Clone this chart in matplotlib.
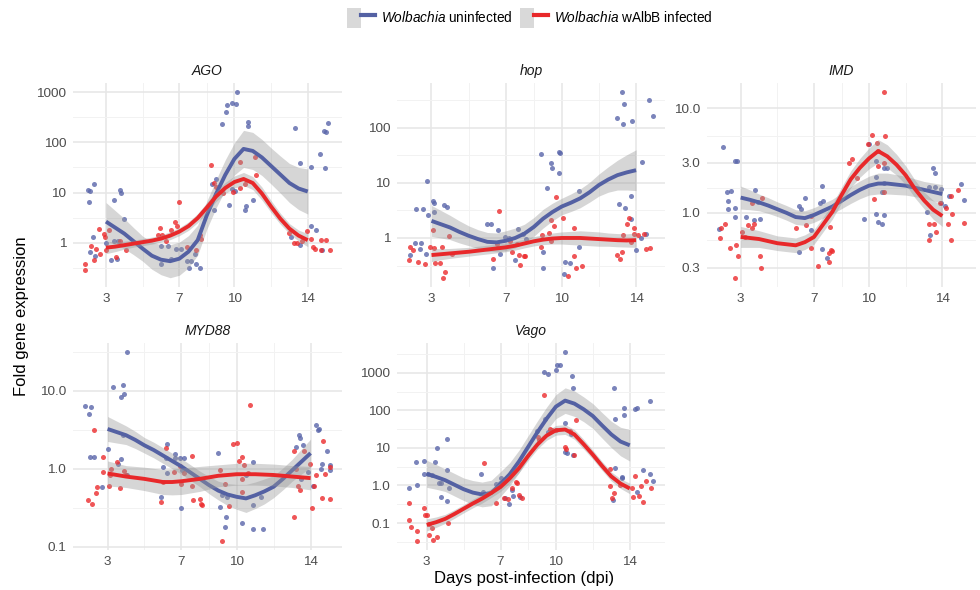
import numpy as np
import matplotlib
matplotlib.use("Agg")
import matplotlib.pyplot as plt
from matplotlib.ticker import FixedLocator, FixedFormatter, NullFormatter
from matplotlib.patches import Patch
from matplotlib.lines import Line2D
from matplotlib.legend_handler import HandlerTuple

plt.rcParams['font.family'] = ['Liberation Sans', 'DejaVu Sans']
plt.rcParams['mathtext.fontset'] = 'custom'
plt.rcParams['mathtext.it'] = 'Liberation Sans:italic'
plt.rcParams['mathtext.rm'] = 'Liberation Sans'

genes = ['AGO', 'hop', 'IMD', 'MYD88', 'Vago']
x_ticks = [3, 7, 10, 14]
x_minor = [1, 5, 8.5, 12, 16]

# days where the smooth curves were read (every half day, 3 to 14)
# fit = log10 fold expression of the curve, band = half width of the grey ribbon (log10)
fit_days = [3, 3.5, 4, 4.5, 5, 5.5, 6, 6.5, 7, 7.5, 8, 8.5, 9, 9.5, 10, 10.5, 11, 11.5, 12, 12.5, 13, 13.5, 14]

# ---------------- AGO
ago_uninf_x = [2.0, 2.15, 2.1, 2.35, 2.3, 2.15, 2.4, 3.0, 3.25, 3.45, 3.45, 3.65, 3.6, 3.8, 3.75, 4.0,
               6.0, 6.0, 6.4, 6.55, 6.8, 7.1, 7.4, 7.5, 7.65, 7.85, 7.9, 8.1,
               8.9, 8.8, 9.3, 9.55, 9.6, 9.85, 10.1, 10.15, 9.7, 9.85, 10.05, 10.6, 10.65, 10.75, 10.75, 11.0, 9.0,
               13.3, 13.1, 13.6, 13.55, 14.2, 14.2, 14.45, 14.65, 14.8, 14.9, 15.0, 15.1, 14.95]
ago_uninf_y = [11, 10.5, 6.5, 15, 1.3, 0.65, 0.55, 1.0, 0.45, 7.2, 1.1, 1.1, 0.47, 10, 11, 2.9,
               0.84, 0.37, 0.84, 0.47, 0.73, 0.73, 0.44, 0.31, 0.44, 0.58, 0.38, 0.31,
               4.4, 14.5, 228, 400, 570, 620, 580, 1000, 5.7, 11.5, 10.5, 4.4, 5.5, 210, 255, 7, 19,
               190, 1.3, 38, 0.88, 33, 2.1, 1.8, 58, 0.72, 172, 160, 245, 31]
ago_walbb_x = [1.87, 1.87, 2.18, 2.33, 2.45, 2.6, 2.67, 2.9, 2.93, 3.0, 3.18, 3.55, 3.77, 4.1,
               5.92, 5.83, 6.07, 6.3, 6.55, 6.75, 6.85, 7.0, 7.4, 7.9, 8.1, 8.2,
               8.7, 8.9, 9.0, 9.4, 9.9, 10.3, 10.3, 10.6, 11.1, 11.2,
               13.0, 13.25, 13.4, 13.7, 13.95, 14.2, 14.3, 14.4, 14.7, 14.7, 15.0, 15.2]
ago_walbb_y = [0.37, 0.28, 0.84, 0.46, 0.76, 1.83, 0.6, 1.5, 1.3, 0.72, 1.8, 0.51, 1.1, 0.7,
               2.0, 1.4, 1.4, 1.1, 1.8, 2.6, 2.1, 6.6, 0.82, 0.72, 1.4, 1.2,
               35, 15.6, 13, 9.8, 10.2, 40.8, 12.3, 15, 51, 22,
               1.57, 1.0, 1.0, 1.06, 1.7, 1.2, 0.82, 0.76, 1.15, 0.72, 1.15, 0.72]
ago_uninf_fit = [0.42, 0.30, 0.18, 0.03, -0.12, -0.26, -0.34, -0.37, -0.32, -0.18, 0.05, 0.55,
                 0.97, 1.35, 1.67, 1.87, 1.83, 1.70, 1.53, 1.36, 1.19, 1.08, 1.02]
ago_uninf_band = [0.38, 0.34, 0.30, 0.27, 0.25, 0.27, 0.30, 0.33, 0.33, 0.32, 0.30, 0.28,
                  0.28, 0.30, 0.32, 0.37, 0.37, 0.36, 0.36, 0.37, 0.39, 0.42, 0.45]
ago_walbb_fit = [-0.10, -0.08, -0.05, -0.02, 0.01, 0.04, 0.08, 0.14, 0.22, 0.33, 0.49, 0.70,
                 0.92, 1.09, 1.21, 1.27, 1.19, 0.98, 0.72, 0.48, 0.28, 0.14, 0.05]
ago_walbb_band = [0.12, 0.10, 0.08, 0.07, 0.07, 0.07, 0.07, 0.08, 0.08, 0.085, 0.09, 0.10,
                  0.10, 0.11, 0.12, 0.13, 0.13, 0.13, 0.12, 0.11, 0.10, 0.11, 0.13]
ago_yticks = [1, 10, 100, 1000]
ago_ylabels = ['1', '10', '100', '1000']

# ---------------- hop
hop_uninf_x = [1.87, 2.1, 2.46, 2.14, 2.4, 2.55, 2.77, 2.8, 2.73, 3.09, 3.13, 3.16, 3.66, 3.85,
               6.0, 6.2, 6.3, 6.6, 6.96, 7.15, 7.5, 7.65, 7.9, 8.07, 6.7,
               8.9, 9.2, 9.45, 9.47, 9.0, 9.0, 9.85, 9.9, 9.85, 10.1, 10.2, 10.45, 10.95, 10.95,
               13.25, 13.34, 12.95, 13.3, 13.8, 14.7, 14.9, 13.07, 13.38, 13.7, 13.7, 14.33, 14.0, 14.27, 14.56]
hop_uninf_y = [0.49, 0.81, 0.82, 3.4, 0.63, 3.3, 11, 2.66, 0.51, 4.6, 2.97, 4.4, 3.9, 3.6,
               1.76, 1.76, 0.28, 1.39, 1.04, 1.0, 0.40, 1.47, 1.16, 0.97, 0.52,
               33, 8, 23, 18.5, 0.55, 0.28, 36.5, 35, 15.3, 0.22, 0.37, 0.35, 7, 0.70,
               440, 272, 150, 116, 133, 325, 163, 4.2, 3.5, 5.7, 2.25, 24, 0.6, 1.0, 1.2]
hop_walbb_x = [1.8, 1.87, 2.0, 2.3, 2.67, 2.9, 3.09, 3.16, 3.2, 3.45, 3.57, 3.63, 3.72, 3.93, 4.1,
               6.63, 6.3, 6.5, 7.2, 7.35, 7.7, 7.75, 7.95, 8.05, 7.6,
               8.9, 8.93, 9.33, 9.42, 9.42, 9.6, 9.69, 10.08, 10.35, 10.68, 10.77, 11.07, 10.68,
               12.95, 13.16, 13.25, 13.3, 13.5, 13.6, 13.9, 13.9, 13.7, 14.1, 14.4, 14.56, 14.77]
hop_walbb_y = [0.40, 0.69, 0.60, 0.37, 0.34, 0.70, 1.41, 0.65, 0.35, 0.35, 0.69, 0.19, 0.24, 1.1, 0.51,
               3.06, 0.41, 0.77, 0.88, 0.55, 0.49, 0.33, 0.47, 0.47, 0.77,
               0.69, 1.12, 1.25, 2.1, 0.88, 1.64, 5.5, 2.3, 0.2, 0.48, 0.29, 0.31, 1.53,
               0.49, 0.41, 0.55, 1.15, 1.78, 2.35, 1.5, 1.2, 0.84, 1.15, 1.2, 0.62, 0.66]
hop_uninf_fit = [0.31, 0.25, 0.19, 0.11, 0.04, -0.02, -0.07, -0.08, -0.05, 0.0, 0.08, 0.20,
                 0.35, 0.47, 0.57, 0.64, 0.72, 0.83, 0.96, 1.06, 1.14, 1.19, 1.23]
hop_uninf_band = [0.28, 0.25, 0.22, 0.20, 0.18, 0.17, 0.17, 0.17, 0.18, 0.18, 0.17, 0.17,
                  0.17, 0.16, 0.15, 0.16, 0.17, 0.18, 0.20, 0.23, 0.27, 0.32, 0.37]
hop_walbb_fit = [-0.31, -0.295, -0.28, -0.265, -0.25, -0.23, -0.21, -0.19, -0.17, -0.14, -0.10, -0.06,
                 -0.03, -0.01, 0.0, 0.0, 0.0, -0.01, -0.02, -0.03, -0.04, -0.045, -0.04]
hop_walbb_band = [0.12, 0.10, 0.09, 0.085, 0.08, 0.08, 0.08, 0.08, 0.08, 0.08, 0.08, 0.085,
                  0.09, 0.10, 0.11, 0.12, 0.13, 0.13, 0.13, 0.12, 0.12, 0.12, 0.13]
hop_yticks = [1, 10, 100]
hop_ylabels = ['1', '10', '100']

# ---------------- IMD
imd_uninf_x = [1.83, 2.05, 2.23, 2.45, 2.32, 2.32, 2.69, 2.69, 2.69, 2.78, 3.29, 3.73, 3.79, 3.92, 4.03,
               6.17, 6.3, 6.5, 6.17, 6.86, 7.33, 7.42, 7.5, 7.46, 7.7,
               9.74, 10.0, 10.4, 10.4, 10.5, 10.7, 10.8, 10.8, 11.0, 10.7, 10.84, 10.4,
               13.49, 13.58, 13.3, 13.58, 13.95, 13.16, 13.35, 14.17, 14.35, 15.04, 15.17, 13.95]
imd_uninf_y = [0.70, 4.3, 1.58, 1.62, 1.29, 1.1, 1.12, 0.91, 3.1, 3.14, 0.91, 0.85, 1.66, 1.28, 0.88,
               1.17, 1.08, 1.4, 0.42, 0.68, 1.23, 1.8, 1.3, 0.45, 0.37,
               0.88, 4.6, 2.2, 0.98, 0.81, 0.78, 0.96, 2.7, 2.7, 1.6, 1.95, 3.1,
               2.7, 2.4, 1.76, 1.78, 1.69, 1.03, 0.62, 1.17, 1.46, 1.9, 1.33, 1.24]
imd_walbb_x = [1.86, 1.95, 2.13, 2.4, 2.68, 2.77, 2.86, 3.05, 3.24, 3.42, 3.6, 3.75, 4.06, 4.13, 4.15, 3.6,
               6.04, 6.59, 6.85, 6.86, 7.2, 7.8, 7.95, 8.0, 7.86, 7.82,
               8.9, 9.1, 9.36, 9.92, 10.14, 10.25, 10.44, 10.5, 10.5, 10.8, 10.83, 10.9, 10.8,
               13.3, 13.56, 13.3, 13.67, 13.9, 14.2, 14.3, 14.48, 14.53, 14.5, 14.86, 15.17]
imd_walbb_y = [0.58, 0.71, 0.78, 0.46, 0.24, 0.49, 0.39, 0.65, 0.59, 0.77, 0.72, 0.78, 0.39, 0.30, 1.38, 1.25,
               0.72, 0.77, 0.46, 0.94, 0.31, 0.41, 0.44, 0.43, 0.74, 0.34,
               3.0, 3.3, 2.15, 4.6, 5.6, 1.36, 4.7, 3.9, 2.8, 1.58, 14.2, 5.4, 3.0,
               0.78, 0.78, 0.55, 0.65, 1.24, 1.12, 0.78, 1.46, 0.97, 0.55, 1.66, 0.8]
imd_uninf_fit = [0.146, 0.125, 0.10, 0.07, 0.035, 0.0, -0.04, -0.05, -0.02, 0.02, 0.06, 0.115,
                 0.17, 0.22, 0.26, 0.28, 0.28, 0.27, 0.26, 0.24, 0.22, 0.20, 0.18]
imd_uninf_band = [0.11, 0.095, 0.08, 0.075, 0.07, 0.07, 0.07, 0.07, 0.07, 0.07, 0.07, 0.075,
                  0.08, 0.085, 0.09, 0.10, 0.10, 0.095, 0.09, 0.085, 0.08, 0.085, 0.09]
imd_walbb_fit = [-0.23, -0.24, -0.25, -0.27, -0.29, -0.30, -0.31, -0.28, -0.23, -0.11, 0.01, 0.17,
                 0.32, 0.43, 0.52, 0.59, 0.54, 0.46, 0.36, 0.23, 0.12, 0.03, -0.03]
imd_walbb_band = [0.10, 0.09, 0.08, 0.075, 0.07, 0.07, 0.07, 0.07, 0.07, 0.07, 0.07, 0.075,
                  0.08, 0.09, 0.10, 0.11, 0.11, 0.10, 0.09, 0.085, 0.08, 0.09, 0.10]
imd_yticks = [0.3, 1, 3, 10]
imd_ylabels = ['0.3', '1.0', '3.0', '10.0']

# ---------------- MYD88
myd_uninf_x = [1.79, 1.97, 2.1, 2.06, 2.28, 2.69, 3.05, 3.29, 3.54, 3.72, 3.74, 3.83, 3.9, 4.05, 3.83, 4.05,
               5.9, 6.0, 6.17, 6.22, 6.2, 6.64, 6.66, 6.9, 7.13, 7.0, 7.04,
               9.0, 9.2, 9.37, 9.43, 9.1, 9.45, 10.3, 10.5, 10.9, 10.9, 10.9, 11.4, 11.3,
               13.36, 13.4, 13.2, 13.6, 13.5, 14.3, 14.4, 14.45, 14.87, 14.63, 14.55, 15.04, 15.04, 14.15, 13.87]
myd_uninf_y = [6.3, 5.0, 6.1, 1.4, 1.43, 0.58, 1.8, 11.3, 1.14, 1.33, 8.2, 11.8, 9.1, 31, 2.7, 0.83,
               0.44, 1.04, 1.39, 2.1, 0.89, 1.55, 1.36, 1.36, 1.36, 0.31, 0.96,
               1.58, 0.46, 0.18, 0.24, 0.32, 0.43, 0.2, 0.83, 1.23, 0.34, 0.17, 0.17, 0.44,
               2.7, 2.5, 1.9, 2.0, 0.75, 3.6, 3.1, 3.2, 1.7, 1.15, 1.0, 1.12, 0.97, 0.6, 0.91]
myd_walbb_x = [1.92, 2.15, 2.24, 2.39, 2.42, 2.73, 2.78, 3.07, 3.14, 3.2, 3.5, 3.7, 3.9, 4.0,
               5.9, 6.0, 6.18, 6.6, 6.9, 7.0, 7.14, 7.57, 7.6, 7.65, 8.0, 8.04, 8.14,
               9.1, 9.2, 9.34, 9.6, 9.8, 10.0, 10.1, 10.3, 10.4, 10.3, 10.3, 10.7, 10.6,
               13.1, 13.63, 13.2, 13.33, 13.4, 13.1, 14.05, 13.96, 14.2, 14.27, 14.69, 14.77, 14.6, 15.04, 15.04]
myd_walbb_y = [0.40, 0.35, 3.17, 0.49, 0.58, 1.43, 0.91, 0.6, 0.83, 1.0, 1.23, 0.57, 0.93, 0.84,
               0.38, 0.68, 1.83, 0.91, 1.08, 0.63, 0.89, 0.6, 1.46, 0.4, 0.41, 0.35, 0.34,
               0.96, 0.12, 0.64, 0.33, 2.07, 2.13, 1.27, 1.43, 1.12, 0.73, 0.5, 6.6, 0.87,
               1.7, 1.7, 1.0, 0.61, 0.53, 0.24, 0.31, 1.14, 0.6, 0.83, 2.24, 0.85, 0.42, 0.41, 1.04]
myd_uninf_fit = [0.51, 0.47, 0.43, 0.37, 0.30, 0.24, 0.17, 0.10, 0.03, -0.05, -0.13, -0.21,
                 -0.28, -0.33, -0.36, -0.38, -0.34, -0.29, -0.23, -0.13, -0.02, 0.09, 0.20]
myd_uninf_band = [0.16, 0.14, 0.12, 0.11, 0.10, 0.10, 0.10, 0.10, 0.10, 0.10, 0.10, 0.11,
                  0.12, 0.14, 0.16, 0.18, 0.17, 0.16, 0.14, 0.14, 0.14, 0.16, 0.18]
myd_walbb_fit = [-0.06, -0.08, -0.10, -0.115, -0.13, -0.15, -0.17, -0.17, -0.16, -0.145, -0.13, -0.11,
                 -0.09, -0.08, -0.07, -0.07, -0.07, -0.075, -0.08, -0.09, -0.10, -0.11, -0.12]
myd_walbb_band = [0.16, 0.15, 0.14, 0.145, 0.15, 0.155, 0.16, 0.165, 0.17, 0.165, 0.16, 0.15,
                  0.14, 0.14, 0.14, 0.14, 0.14, 0.14, 0.14, 0.14, 0.14, 0.145, 0.15]
myd_yticks = [0.1, 1, 10]
myd_ylabels = ['0.1', '1.0', '10.0']

# ---------------- Vago
vago_uninf_x = [2.05, 2.42, 2.5, 2.87, 2.87, 3.09, 3.27, 3.45, 3.58, 3.68, 3.8, 3.75, 4.08, 4.08, 4.08, 4.2,
                5.92, 6.03, 6.78, 6.96, 7.05, 7.23, 7.47, 7.65, 7.6, 8.05,
                9.36, 9.58, 10.0, 10.08, 10.2, 10.5, 10.85, 10.9, 9.4, 9.58, 10.47, 10.5, 10.6, 10.9, 10.8, 9.0,
                13.15, 13.19, 13.7, 13.7, 14.27, 14.4, 15.1, 13.2, 13.6, 13.6, 13.1, 14.7, 15.1, 15.25, 14.4]
vago_uninf_y = [0.87, 4.1, 1.0, 4.35, 2.0, 2.0, 1.9, 4.1, 10, 1.13, 1.13, 0.49, 17.7, 2.6, 0.39, 0.86,
                2.0, 0.67, 1.07, 1.13, 1.55, 0.45, 0.33, 0.52, 0.75, 0.49,
                1050, 950, 1170, 1600, 1650, 3500, 800, 390, 58, 26, 45, 7.8, 7.3, 6.6, 24, 29,
                400, 58, 114, 74, 108, 114, 180, 3.0, 1.7, 1.6, 0.4, 2.6, 2.0, 1.3, 0.65]
vago_walbb_x = [2.05, 2.05, 2.13, 2.5, 2.5, 2.87, 2.9, 3.03, 3.14, 3.14, 3.27, 3.36, 3.58, 4.17,
                6.1, 6.75, 7.18, 7.41, 7.6, 7.83, 7.87, 8.0, 8.18,
                9.36, 9.04, 9.09, 9.67, 9.8, 10.0, 10.5, 10.55, 10.75, 11.0, 11.1,
                12.95, 13.14, 13.03, 13.46, 14.13, 14.18, 14.31, 14.5, 14.63, 14.72, 14.9, 15.17, 12.95]
vago_walbb_y = [0.34, 0.12, 0.08, 0.063, 0.034, 0.25, 0.16, 0.16, 0.095, 0.048, 0.072, 0.035, 0.043, 0.1,
                3.9, 0.35, 0.45, 0.43, 0.83, 1.25, 1.13, 0.55, 0.45,
                257, 19, 16, 32, 30, 30, 10.6, 9.5, 28, 6.6, 55,
                0.96, 0.63, 0.45, 1.02, 0.87, 0.5, 1.8, 0.52, 0.96, 0.36, 1.31, 0.88, 2.8]
vago_uninf_fit = [0.31, 0.23, 0.14, 0.02, -0.10, -0.19, -0.24, -0.20, 0.04, 0.30, 0.64, 1.03,
                  1.42, 1.78, 2.10, 2.26, 2.18, 2.03, 1.85, 1.60, 1.36, 1.17, 1.07]
vago_uninf_band = [0.36, 0.33, 0.30, 0.30, 0.30, 0.32, 0.33, 0.34, 0.33, 0.31, 0.30, 0.30,
                   0.30, 0.31, 0.32, 0.34, 0.34, 0.33, 0.33, 0.34, 0.35, 0.38, 0.42]
vago_walbb_fit = [-1.05, -0.98, -0.89, -0.76, -0.62, -0.48, -0.35, -0.20, -0.04, 0.19, 0.46, 0.79,
                  1.09, 1.33, 1.47, 1.49, 1.36, 1.10, 0.82, 0.52, 0.24, 0.05, -0.08]
vago_walbb_band = [0.16, 0.14, 0.12, 0.115, 0.11, 0.115, 0.12, 0.12, 0.12, 0.12, 0.12, 0.12,
                   0.12, 0.125, 0.13, 0.13, 0.13, 0.13, 0.12, 0.12, 0.12, 0.13, 0.14]
vago_yticks = [0.1, 1, 10, 100, 1000]
vago_ylabels = ['0.1', '1.0', '10', '100', '1000']

panels = [
    (ago_uninf_x, ago_uninf_y, ago_walbb_x, ago_walbb_y, ago_uninf_fit, ago_uninf_band,
     ago_walbb_fit, ago_walbb_band, ago_yticks, ago_ylabels),
    (hop_uninf_x, hop_uninf_y, hop_walbb_x, hop_walbb_y, hop_uninf_fit, hop_uninf_band,
     hop_walbb_fit, hop_walbb_band, hop_yticks, hop_ylabels),
    (imd_uninf_x, imd_uninf_y, imd_walbb_x, imd_walbb_y, imd_uninf_fit, imd_uninf_band,
     imd_walbb_fit, imd_walbb_band, imd_yticks, imd_ylabels),
    (myd_uninf_x, myd_uninf_y, myd_walbb_x, myd_walbb_y, myd_uninf_fit, myd_uninf_band,
     myd_walbb_fit, myd_walbb_band, myd_yticks, myd_ylabels),
    (vago_uninf_x, vago_uninf_y, vago_walbb_x, vago_walbb_y, vago_uninf_fit, vago_uninf_band,
     vago_walbb_fit, vago_walbb_band, vago_yticks, vago_ylabels),
]

blue_line, blue_pt = '#5461a3', '#5a66aa'
red_line, red_pt = '#e8282a', '#ec2c2e'

W, H = 980, 590
cols = [(73, 342), (397, 665), (707, 976)]
rows = [(83, 287), (343, 550)]

fig = plt.figure(figsize=(W / 100, H / 100), dpi=100)

for i, gene in enumerate(genes):
    ux, uy, wx, wy, ufit, uband, wfit, wband, yt, yl = panels[i]
    x0, x1 = cols[i % 3]
    y0, y1 = rows[i // 3]
    ax = fig.add_axes([x0 / W, 1 - y1 / H, (x1 - x0) / W, (y1 - y0) / H])
    ax.set_yscale('log')

    ax.scatter(ux, uy, s=13, color=blue_pt, alpha=0.8, lw=0, zorder=2)
    ax.scatter(wx, wy, s=13, color=red_pt, alpha=0.8, lw=0, zorder=2)

    z = 3
    for fit, band, col in [(ufit, uband, blue_line), (wfit, wband, red_line)]:
        f = np.array(fit)
        b = np.array(band)
        ax.fill_between(fit_days, 10 ** (f - b), 10 ** (f + b), color='#999999', alpha=0.4, lw=0, zorder=z)
        ax.plot(fit_days, 10 ** f, color=col, lw=2.8, solid_capstyle='butt', solid_joinstyle='round', zorder=z + 1)
        z += 2

    # ggplot-like grid: minor lines halfway between majors (in log space)
    lt = np.log10(yt)
    bd = lt[1] - lt[0]
    ext = np.concatenate([[lt[0] - bd], lt, [lt[-1] + bd]])
    mids = (ext[:-1] + ext[1:]) / 2
    ax.yaxis.set_major_locator(FixedLocator(yt))
    ax.yaxis.set_major_formatter(FixedFormatter(yl))
    ax.yaxis.set_minor_locator(FixedLocator(10 ** mids))
    ax.yaxis.set_minor_formatter(NullFormatter())
    ax.xaxis.set_major_locator(FixedLocator(x_ticks))
    ax.xaxis.set_minor_locator(FixedLocator(x_minor))

    ax.grid(which='major', color='#e6e6e6', lw=1.1, zorder=0)
    ax.grid(which='minor', color='#f2f2f2', lw=0.7, zorder=0)
    ax.set_axisbelow(True)
    for s in ax.spines.values():
        s.set_visible(False)
    ax.tick_params(which='both', length=0, labelsize=9.7, labelcolor='#4d4d4d')
    ax.tick_params(axis='y', pad=5)
    ax.tick_params(axis='x', pad=4)
    ax.set_title(gene, style='italic', fontsize=10, color='#1a1a1a', pad=6)

fig.text(22 / W, 1 - 316 / H, 'Fold gene expression', rotation=90, ha='center', va='center', fontsize=12)
fig.text(524 / W, 1 - 578 / H, 'Days post-infection (dpi)', ha='center', va='center', fontsize=12)

key_bg = '#d9d9d9'
h1 = (Patch(facecolor=key_bg, edgecolor='none'), Line2D([], [], color=blue_line, lw=3))
h2 = (Patch(facecolor=key_bg, edgecolor='none'), Line2D([], [], color=red_line, lw=3))
fig.legend([h1, h2], [r'$\it{Wolbachia}$ uninfected', r'$\it{Wolbachia}$ wAlbB infected'],
           handler_map={tuple: HandlerTuple(ndivide=None, pad=0)},
           loc='center', bbox_to_anchor=(530 / W, 1 - 18 / H), ncol=2, frameon=False,
           fontsize=9.8, handlelength=2.0, handleheight=1.9, handletextpad=0.45, columnspacing=0.6)

fig.savefig('out.png', dpi=100)
